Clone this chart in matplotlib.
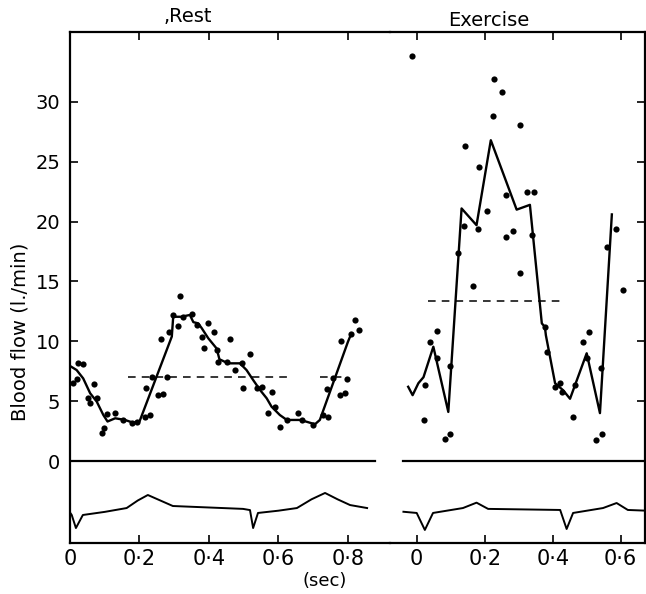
import matplotlib
matplotlib.use("Agg")
import matplotlib.pyplot as plt

plt.rcParams['font.family'] = ['DejaVu Sans']

# ---------------- data ----------------
y_ticks = [0, 5, 10, 15, 20, 25, 30]
rest_xticks = [0, 0.2, 0.4, 0.6, 0.8]
rest_xlabels = ["0", "0·2", "0·4", "0·6", "0·8"]
ex_xticks = [0, 0.2, 0.4, 0.6]
ex_xlabels = ["0", "0·2", "0·4", "0·6"]

# Rest: mean blood-flow curve
rest_line_t = [0.0, 0.019, 0.038, 0.058, 0.077, 0.096, 0.108, 0.13, 0.158, 0.182, 0.2,
               0.293, 0.297, 0.32, 0.345, 0.355, 0.369, 0.379, 0.398, 0.422, 0.43,
               0.455, 0.489, 0.508, 0.527, 0.547, 0.566, 0.58, 0.604, 0.624, 0.662,
               0.681, 0.705, 0.719, 0.80, 0.81]
rest_line_y = [7.94, 7.6, 6.9, 5.66, 4.96, 3.84, 3.3, 3.57, 3.43, 3.2, 3.3,
               10.4, 12.05, 12.05, 12.2, 11.6, 11.5, 11.1, 10.25, 9.4, 8.5,
               8.16, 8.16, 7.6, 6.77, 5.93, 5.24, 4.54, 3.84, 3.43, 3.43,
               3.28, 3.07, 3.43, 9.97, 10.67]

# Rest: individual measurements
rest_dot_t = [0.317, 0.297, 0.326, 0.35, 0.312, 0.365, 0.398, 0.413, 0.381, 0.387,
              0.422, 0.427, 0.286, 0.262, 0.237, 0.218, 0.278, 0.254, 0.269, 0.23,
              0.216, 0.106, 0.13, 0.153, 0.178, 0.192, 0.091, 0.099, 0.069, 0.077,
              0.052, 0.058, 0.024, 0.038, 0.01, 0.019,
              0.46, 0.518, 0.451, 0.494, 0.475, 0.499, 0.537, 0.552, 0.58, 0.59,
              0.571, 0.624, 0.604, 0.657, 0.667, 0.7, 0.729, 0.743, 0.74, 0.756,
              0.796, 0.777, 0.791, 0.779, 0.808, 0.832, 0.82]
rest_dot_y = [13.8, 12.2, 12.0, 12.25, 11.3, 11.36, 11.5, 10.8, 10.4, 9.47,
              9.27, 8.3, 10.8, 10.17, 7.04, 6.07, 7.04, 5.51, 5.6, 3.84,
              3.7, 3.93, 3.98, 3.43, 3.2, 3.28, 2.31, 2.73, 6.4, 5.24,
              5.24, 4.82, 8.21, 8.1, 6.49, 6.82,
              10.17, 8.94, 8.3, 8.21, 7.6, 6.07, 6.07, 6.2, 5.79, 4.48,
              4.04, 3.43, 2.87, 3.98, 3.43, 3.0, 3.84, 3.7, 5.99, 6.9,
              6.82, 5.51, 5.66, 10.05, 10.58, 10.94, 11.78]

rest_mean = 7.0
rest_mean_spans = [(0.168, 0.624), (0.72, 0.79)]

# Exercise: mean blood-flow curve
ex_line_t = [-0.025, -0.012, 0.005, 0.02, 0.049, 0.093, 0.132, 0.176, 0.218, 0.294,
             0.333, 0.368, 0.377, 0.38, 0.407, 0.431, 0.451, 0.5, 0.539, 0.574]
ex_line_y = [6.2, 5.5, 6.5, 7.0, 9.55, 4.1, 21.1, 19.7, 26.8, 21.0,
             21.4, 11.5, 11.2, 10.5, 6.5, 5.9, 5.2, 9.0, 4.0, 20.6]

# Exercise: individual measurements
ex_dot_t = [-0.015, 0.228, 0.252, 0.224, 0.304, 0.142, 0.182, 0.263, 0.323, 0.345,
            0.206, 0.139, 0.181, 0.284, 0.263, 0.122, 0.338, 0.304, 0.166,
            0.061, 0.039, 0.061, 0.099, 0.024, 0.021, 0.083, 0.099,
            0.377, 0.382, 0.407, 0.421, 0.426, 0.466, 0.461, 0.49, 0.508, 0.5,
            0.541, 0.527, 0.544, 0.561, 0.585, 0.606]
ex_dot_y = [33.8, 31.9, 30.8, 28.8, 28.1, 26.3, 24.6, 22.2, 22.5, 22.5,
            20.9, 19.6, 19.36, 19.24, 18.7, 17.4, 18.9, 15.7, 14.6,
            10.9, 9.97, 8.58, 7.9, 6.35, 3.43, 1.8, 2.26,
            11.2, 9.13, 6.2, 6.5, 5.79, 6.35, 3.7, 9.97, 10.8, 8.58,
            7.74, 1.75, 2.26, 17.9, 19.36, 14.3]

ex_mean = 13.4
ex_mean_span = (0.034, 0.431)

# ECG traces (drawn in the flow axis units, below zero)
rest_ecg_t = [0.0, 0.005, 0.017, 0.037, 0.10, 0.163, 0.195, 0.224, 0.26, 0.296,
              0.498, 0.518, 0.527, 0.541, 0.6, 0.653, 0.695, 0.734, 0.77, 0.806, 0.855]
rest_ecg_y = [-4.3, -4.51, -5.6, -4.51, -4.25, -3.93, -3.3, -2.84, -3.3, -3.76,
              -4.0, -4.1, -5.6, -4.34, -4.15, -3.93, -3.2, -2.67, -3.2, -3.68, -3.93]
ex_ecg_t = [-0.039, 0.0, 0.024, 0.048, 0.136, 0.176, 0.21, 0.422, 0.441, 0.46,
            0.548, 0.588, 0.621, 0.676]
ex_ecg_y = [-4.24, -4.34, -5.76, -4.34, -3.93, -3.48, -4.0, -4.09, -5.68, -4.34,
            -3.93, -3.51, -4.09, -4.15]

rest_zero_span = (0.0, 0.878)
ex_zero_span = (-0.04, 0.68)

# ---------------- figure ----------------
W, H = 646, 594
fig = plt.figure(figsize=(W / 100, H / 100), dpi=100)

top_px, bot_px = 32, 543
split_px = 390
ax_r = fig.add_axes([70 / W, 1 - bot_px / H, (split_px - 70) / W, (bot_px - top_px) / H])
ax_e = fig.add_axes([split_px / W, 1 - bot_px / H, (645 - split_px) / W, (bot_px - top_px) / H])

ylim = (-6.85, 35.84)
for ax in (ax_r, ax_e):
    ax.set_ylim(*ylim)
    ax.set_facecolor('none')
    for s in ax.spines.values():
        s.set_linewidth(1.6)
ax_r.set_xlim(0, 0.9209)
ax_e.set_xlim(-0.0785, 0.6715)

lw_line = 1.7
dot_kw = dict(s=20, color='black', zorder=3, linewidths=0)

# Rest panel
ax_r.plot(rest_line_t, rest_line_y, color='black', lw=lw_line)
ax_r.scatter(rest_dot_t, rest_dot_y, **dot_kw)
for a, b in rest_mean_spans:
    ax_r.plot([a, b], [rest_mean, rest_mean], color='black', lw=1.1, ls=(0, (5, 4)))
ax_r.plot(rest_zero_span, [0, 0], color='black', lw=1.6)
ax_r.plot(rest_ecg_t, rest_ecg_y, color='black', lw=1.4)

# Exercise panel
ax_e.plot(ex_line_t, ex_line_y, color='black', lw=lw_line)
ax_e.scatter(ex_dot_t, ex_dot_y, **dot_kw)
ax_e.plot(ex_mean_span, [ex_mean, ex_mean], color='black', lw=1.1, ls=(0, (5, 4)))
ax_e.plot(ex_zero_span, [0, 0], color='black', lw=1.6)
ax_e.plot(ex_ecg_t, ex_ecg_y, color='black', lw=1.4)

# spines
ax_r.spines['right'].set_visible(False)
ax_e.spines['left'].set_visible(False)

fs = 14
ax_r.set_yticks(y_ticks)
ax_r.set_yticklabels([str(v) for v in y_ticks], fontsize=fs)
ax_r.tick_params(axis='y', direction='in', length=6, width=1.2, pad=7,
                 left=True, right=False)
ax_e.set_yticks(y_ticks)
ax_e.tick_params(axis='y', direction='in', length=6, width=1.2,
                 left=False, right=True, labelleft=False, labelright=False)

ax_r.set_xticks(rest_xticks)
ax_r.set_xticklabels(rest_xlabels, fontsize=fs + 1)
ax_e.set_xticks(ex_xticks)
ax_e.set_xticklabels(ex_xlabels, fontsize=fs + 1)
for ax in (ax_r, ax_e):
    ax.tick_params(axis='x', direction='in', length=6, width=1.2, pad=4,
                   top=True, bottom=True)

ax_r.set_ylabel("Blood flow (l./min)", fontsize=fs)
ax_r.yaxis.set_label_coords(-0.125, 0.413)

fig.text(188 / W, 1 - 17 / H, ",Rest", ha='center', va='center', fontsize=fs)
fig.text(489 / W, 1 - 20 / H, "Exercise", ha='center', va='center', fontsize=fs)
fig.text(325 / W, 1 - 581 / H, "(sec)", ha='center', va='center', fontsize=fs - 1)

fig.savefig("out.png", dpi=100)
